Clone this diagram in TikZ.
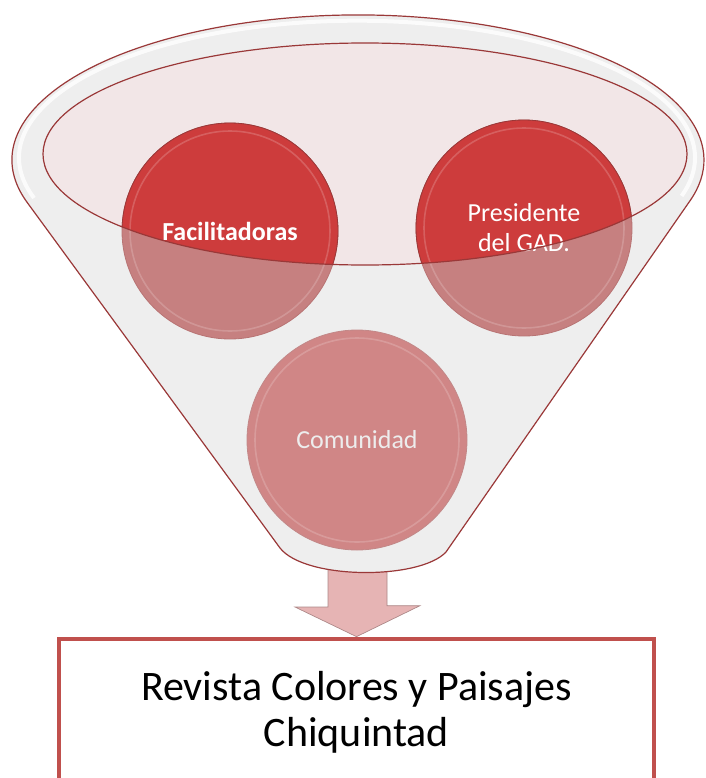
\documentclass[tikz,border=0pt]{standalone}
\usepackage{fontspec}
\setmainfont{Carlito}
\usetikzlibrary{backgrounds,positioning}

\definecolor{rimred}{HTML}{9A3838}
\definecolor{ballred}{HTML}{CD3C3C}
\definecolor{ballfade}{HTML}{C68080}
\definecolor{comfade}{HTML}{D08686}
\definecolor{bowlpink}{HTML}{F2E6E7}
\definecolor{bodygray}{HTML}{EEEEEE}
\definecolor{arrowpink}{HTML}{E6B4B4}
\definecolor{boxred}{HTML}{C0504D}

\begin{document}
\begin{tikzpicture}[x=0.75pt,y=0.75pt,
    ball/.style={circle,minimum size=162pt,inner sep=0,text=white,align=center},
    bevel/.style={white,opacity=0.18,line width=1.2pt}]
    \pgfmathsetmacro{\outerrx}{346}
    \pgfmathsetmacro{\outerry}{145}
    \pgfmathsetmacro{\innerrx}{322}
    \pgfmathsetmacro{\innerry}{111}
    \pgfmathsetmacro{\ballradius}{108}
    \pgfmathsetmacro{\comradius}{110}
    \providecommand{\ballfontsize}{\fontsize{19.5pt}{22.5pt}\selectfont}
    \providecommand{\boxfontsize}{\fontsize{31.5pt}{34.5pt}\selectfont}
    \useasboundingbox (0,0) rectangle (706,-778);
    \node[ball,font=\ballfontsize\bfseries] (fac) at (230,-231) {Facilitadoras};
    \node[ball,font=\ballfontsize] (pres) at (524,-228) {Presidente\\del GAD.};
    \node[ball,font=\ballfontsize,text=white!93!black,minimum size=165pt] (com) at (357,-440) {Comunidad};
    \node[draw=boxred,line width=3pt,fill=white,minimum width=446pt,minimum height=110pt,align=center,font=\boxfontsize] (box) at (356.5,-712) {Revista Colores y Paisajes\\Chiquintad};
    \coordinate (neck) at (357.5,-560);
    \begin{scope}[on background layer]
        % arrow from the neck down to the box
        \filldraw[fill=arrowpink,draw=arrowpink!75!black,line width=0.5pt] (neck) ++(-29.5,0) -- ++(0,-47) -- ++(-33,0) -- (box.north) -- ++(63.5,31) -- ++(-33,0) -- ++(0,47) -- cycle;
        % funnel body
        \filldraw[fill=bodygray,draw=rimred,line width=0.9pt] (27.3,-202.6) arc[start angle=197.1,end angle=-16.2,x radius=\outerrx,y radius=\outerry] -- (446,-552) .. controls (420,-580) and (305,-580) .. (280,-548) -- cycle;
        \draw[white,line width=3pt,opacity=0.8] (34,-198) arc[start angle=197.1,end angle=-16.2,x radius=338,y radius=137];
        \fill[bowlpink] (365,-154) ellipse[x radius=\innerrx,y radius=\innerry];
        % faded lower halves
        \filldraw[fill=ballfade,draw=rimred!70,line width=0.6pt] (fac.center) circle[radius=\ballradius];
        \filldraw[fill=ballfade,draw=rimred!70,line width=0.6pt] (pres.center) circle[radius=\ballradius];
        \filldraw[fill=comfade,draw=rimred!60,line width=0.6pt] (com.center) circle[radius=\comradius];
        \begin{scope}
            \clip (365,-154) ellipse[x radius=\innerrx,y radius=\innerry];
            \filldraw[fill=ballred,draw=rimred,line width=0.6pt] (fac.center) circle[radius=\ballradius];
            \filldraw[fill=ballred,draw=rimred,line width=0.6pt] (pres.center) circle[radius=\ballradius];
        \end{scope}
        \draw[bevel] (fac.center) circle[radius=100];
        \draw[bevel] (pres.center) circle[radius=100];
        \draw[bevel] (com.center) circle[radius=102];
    \end{scope}
    \draw[rimred,line width=0.9pt] (365,-154) ellipse[x radius=\innerrx,y radius=\innerry];
\end{tikzpicture}
\end{document}
